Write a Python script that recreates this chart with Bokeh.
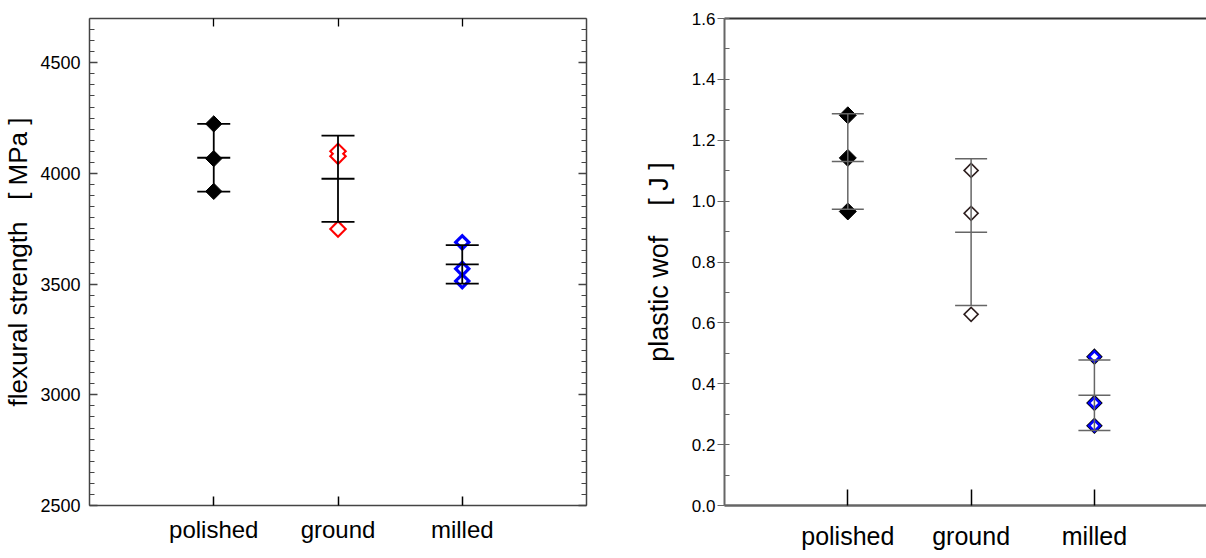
import numpy as np
from bokeh.plotting import figure
from bokeh.layouts import row
from bokeh.models import LinearAxis, FixedTicker, PrintfTickFormatter
from bokeh.embed import file_html
from bokeh.resources import INLINE

# ---------------- data ----------------
categories = ["polished", "ground", "milled"]
cat_pos = [1, 2, 3]

# left panel: flexural strength [MPa]
fs_polished = [4224, 4067, 3919]
fs_ground = [4100, 4078, 3749]
fs_milled = [3689, 3569, 3514]
fs_mean = [4071, 3976, 3589]
fs_sd = [153, 195, 87]

# right panel: plastic wof [J]
wof_polished = [1.282, 1.142, 0.966]
wof_ground = [1.101, 0.960, 0.628]
wof_milled = [0.489, 0.337, 0.262]
wof_mean = [1.130, 0.898, 0.362]
wof_sd = [0.157, 0.241, 0.116]

fs_ticks = [2500, 3000, 3500, 4000, 4500]
wof_ticks = [0.0, 0.2, 0.4, 0.6, 0.8, 1.0, 1.2, 1.4, 1.6]

SANS = "Liberation Sans"
NB = "\u00a0"
A = np.pi / 4


def hidden_axis(ticker, tick_in, minor_in, color, width, tick_color):
    return LinearAxis(ticker=ticker, major_label_text_font_size="1px",
                      major_label_text_color=None, major_label_standoff=0,
                      major_tick_in=tick_in, major_tick_out=0,
                      minor_tick_in=minor_in, minor_tick_out=0,
                      axis_line_color=color, axis_line_width=width,
                      major_tick_line_color=tick_color, minor_tick_line_color=tick_color,
                      major_tick_line_width=1.3, minor_tick_line_width=1.2)


# ---------------- left figure ----------------
p1 = figure(width=620, height=558, x_range=(0, 4), y_range=(2500, 4700),
            output_backend="svg", toolbar_location=None,
            min_border_left=88, min_border_right=34, min_border_top=15, min_border_bottom=53)
p1.outline_line_color = None
p1.xgrid.visible = False
p1.ygrid.visible = False

ax_col1 = "#444444"
fs_minor = list(range(2500, 4701, 50))
ya = p1.yaxis[0]
ya.ticker = FixedTicker(ticks=fs_ticks, minor_ticks=fs_minor)
ya.axis_label = "flexural strength" + NB * 3 + "[" + NB + "MPa" + NB + "]"
ya.axis_label_text_font = SANS
ya.axis_label_text_font_size = "26px"
ya.axis_label_text_font_style = "normal"
ya.axis_label_text_color = "black"
ya.axis_label_standoff = 4
ya.major_label_text_font = SANS
ya.major_label_text_font_size = "18px"
ya.major_label_text_color = "black"
ya.major_label_standoff = 9
ya.major_tick_in = 8
ya.major_tick_out = 0
ya.minor_tick_in = 5
ya.minor_tick_out = 0
ya.axis_line_color = ax_col1
ya.axis_line_width = 1.5
ya.major_tick_line_color = ax_col1
ya.minor_tick_line_color = ax_col1
ya.major_tick_line_width = 1.3
ya.minor_tick_line_width = 1.2

xa = p1.xaxis[0]
xa.ticker = FixedTicker(ticks=cat_pos)
xa.major_label_overrides = {p: c for p, c in zip(cat_pos, categories)}
xa.major_label_text_font = SANS
xa.major_label_text_font_size = "24px"
xa.major_label_text_color = "black"
xa.major_label_standoff = 10
xa.major_tick_in = 9
xa.major_tick_out = 0
xa.minor_tick_in = 0
xa.minor_tick_out = 0
xa.axis_line_color = ax_col1
xa.axis_line_width = 1.5
xa.major_tick_line_color = "black"
xa.major_tick_line_width = 1.5

p1.add_layout(hidden_axis(FixedTicker(ticks=fs_ticks, minor_ticks=fs_minor), 8, 5,
                          ax_col1, 1.5, ax_col1), "right")
p1.add_layout(hidden_axis(FixedTicker(ticks=cat_pos), 8, 0, ax_col1, 1.5, "black"), "above")

x1 = [cat_pos[0]] * 3
x2 = [cat_pos[1]] * 3
x3 = [cat_pos[2]] * 3
p1.scatter(x1, fs_polished, marker="square", angle=A, size=11.5, fill_color="black", line_color="black")
p1.scatter(x2, fs_ground, marker="square", angle=A, size=13, fill_color="red", line_color=None)
p1.scatter(x2, fs_ground, marker="square", angle=A, size=8.8, fill_color="white", line_color=None)
p1.scatter(x3, fs_milled, marker="square", angle=A, size=12.5, fill_color="blue", line_color=None)
p1.scatter(x3, fs_milled, marker="square", angle=A, size=6.2, fill_color="white", line_color=None)

m1 = np.array(fs_mean, dtype=float)
s1 = np.array(fs_sd, dtype=float)
p1.segment(x0=cat_pos, y0=m1 - s1, x1=cat_pos, y1=m1 + s1, line_color="black", line_width=1.8)
for yy in (m1 - s1, m1, m1 + s1):
    p1.scatter(cat_pos, yy, marker="dash", size=33, line_color="black", line_width=1.8)

# ---------------- right figure ----------------
p2 = figure(width=586, height=558, x_range=(0, 3.909), y_range=(0, 1.6),
            output_backend="svg", toolbar_location=None,
            min_border_left=104, min_border_right=0, min_border_top=18, min_border_bottom=46)
p2.outline_line_color = None
p2.xgrid.visible = False
p2.ygrid.visible = False

ax_col2 = "#666666"
yb = p2.yaxis[0]
yb.ticker = FixedTicker(ticks=wof_ticks, minor_ticks=[round(0.1 * i, 1) for i in range(17)])
yb.formatter = PrintfTickFormatter(format="%.1f")
yb.axis_label = "plastic wof" + NB * 4 + "[" + NB + "J" + NB + "]"
yb.axis_label_text_font = SANS
yb.axis_label_text_font_size = "27px"
yb.axis_label_text_font_style = "normal"
yb.axis_label_text_color = "black"
yb.axis_label_standoff = 15
yb.major_label_text_font = SANS
yb.major_label_text_font_size = "17px"
yb.major_label_text_color = "black"
yb.major_label_standoff = 2
yb.major_tick_in = 0
yb.major_tick_out = 7
yb.minor_tick_in = 5
yb.minor_tick_out = 0
yb.axis_line_color = ax_col2
yb.axis_line_width = 2
yb.major_tick_line_color = ax_col2
yb.minor_tick_line_color = ax_col2
yb.major_tick_line_width = 1.2
yb.minor_tick_line_width = 1.2

xb = p2.xaxis[0]
xb.ticker = FixedTicker(ticks=cat_pos)
xb.major_label_overrides = {p: c for p, c in zip(cat_pos, categories)}
xb.major_label_text_font = SANS
xb.major_label_text_font_size = "25px"
xb.major_label_text_color = "black"
xb.major_label_standoff = 16
xb.major_tick_in = 16
xb.major_tick_out = 0
xb.minor_tick_in = 0
xb.minor_tick_out = 0
xb.axis_line_color = ax_col2
xb.axis_line_width = 2.5
xb.major_tick_line_color = "black"
xb.major_tick_line_width = 1.5

p2.add_layout(hidden_axis(FixedTicker(ticks=[]), 0, 0, "#333333", 2, "#333333"), "above")

p2.scatter(x1, wof_polished, marker="square", angle=A, size=12, fill_color="black", line_color="black")
p2.scatter(x2, wof_ground, marker="square", angle=A, size=11.5, fill_color="#2b1b1b", line_color=None)
p2.scatter(x2, wof_ground, marker="square", angle=A, size=8.3, fill_color="white", line_color=None)
p2.scatter(x3, wof_milled, marker="square", angle=A, size=11.8, fill_color="black", line_color=None)
p2.scatter(x3, wof_milled, marker="square", angle=A, size=10.2, fill_color="blue", line_color=None)
p2.scatter(x3, wof_milled, marker="square", angle=A, size=5.2, fill_color="white", line_color=None)

m2 = np.array(wof_mean)
s2 = np.array(wof_sd)
p2.segment(x0=cat_pos, y0=m2 - s2, x1=cat_pos, y1=m2 + s2, line_color=ax_col2, line_width=1.5)
for yy in (m2 - s2, m2, m2 + s2):
    p2.scatter(cat_pos, yy, marker="dash", size=32, line_color=ax_col2, line_width=1.5)

layout = row(p1, p2)
open("out.html", "w").write(file_html(layout, INLINE))
